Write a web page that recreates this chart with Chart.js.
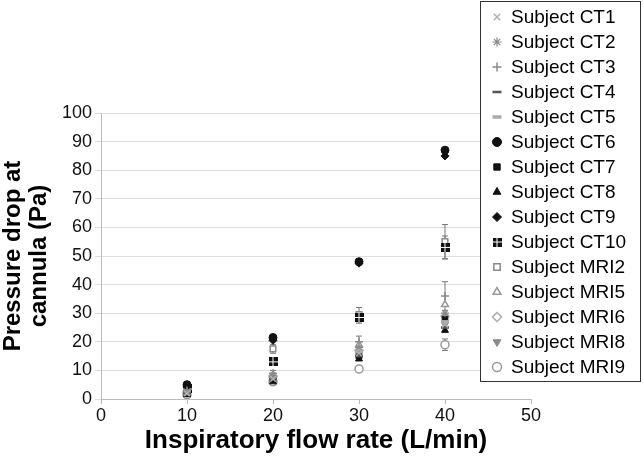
<!DOCTYPE html>
<html><head><meta charset="utf-8">
<script src="https://cdn.jsdelivr.net/npm/chart.js@4/dist/chart.umd.min.js"></script>
<style>html,body{margin:0;padding:0;background:#fff}</style>
</head><body>
<canvas id="c" width="643" height="462"></canvas>
<script>
// ---- data ----
const flowRates = [10, 20, 30, 40];
const xTickValues = [0, 10, 20, 30, 40, 50];
const yTickValues = [0, 10, 20, 30, 40, 50, 60, 70, 80, 90, 100];
const subjectNames = ['Subject CT1','Subject CT2','Subject CT3','Subject CT4','Subject CT5','Subject CT6','Subject CT7','Subject CT8','Subject CT9','Subject CT10','Subject MRI2','Subject MRI5','Subject MRI6','Subject MRI8','Subject MRI9'];
const ct1  = [2.0, 7.0, 16.0, 26.0];
const ct2  = [2.5, 8.0, 18.0, 30.0];
const ct3  = [3.0, 9.0, 20.0, 36.0];
const ct4  = [2.0, 7.0, 15.0, 25.0];
const ct5  = [2.0, 7.5, 16.5, 27.0];
const ct6  = [5.0, 21.5, 48.0, 87.0];
const ct7  = [2.0, 7.0, 15.0, 28.0];
const ct8  = [1.5, 6.0, 14.0, 24.0];
const ct9  = [4.5, 20.5, 47.5, 85.0];
const ct10 = [3.5, 13.0, 28.5, 53.0];
const mri2 = [4.0, 17.5, 29.5, 55.0];
const mri5 = [3.0, 8.5, 19.0, 33.0];
const mri6 = [2.5, 8.0, 17.0, 29.0];
const mri8 = [2.0, 7.0, 16.0, 26.0];
const mri9 = [1.5, 6.0, 10.5, 19.0];
const errCt3  = [0.5, 1.0, 2.0, 5.0];
const errCt10 = [0.5, 1.0, 2.0, 4.0];
const errMri2 = [1.0, 1.5, 2.5, 6.0];
const errMri9 = [0.5, 1.0, 1.0, 2.0];

// ---- marker image for CT10 (square with white cross) ----
function checkSquare() {
  const cv = document.createElement('canvas');
  cv.width = 9; cv.height = 9;
  const g = cv.getContext('2d');
  g.fillStyle = '#111'; g.fillRect(0, 0, 9, 9);
  g.fillStyle = '#fff'; g.fillRect(4, 0, 1, 9); g.fillRect(0, 4, 9, 1);
  return cv;
}

const styles = [
  {pointStyle:'crossRot', bg:'#b0b0b0', bd:'#b0b0b0', bw:1.5},
  {pointStyle:'star',     bg:'#8a8a8a', bd:'#8a8a8a', bw:1.2},
  {pointStyle:'cross',    bg:'#8a8a8a', bd:'#8a8a8a', bw:1.5},
  {pointStyle:'line',     bg:'#555',    bd:'#555',    bw:2.5},
  {pointStyle:'line',     bg:'#aaa',    bd:'#aaa',    bw:3.5},
  {pointStyle:'circle',   bg:'#111',    bd:'#111',    bw:1},
  {pointStyle:'rect',     bg:'#111',    bd:'#111',    bw:1},
  {pointStyle:'triangle', bg:'#111',    bd:'#111',    bw:1},
  {pointStyle:'rectRot',  bg:'#111',    bd:'#111',    bw:1},
  {pointStyle:checkSquare(), bg:'#111', bd:'#111',    bw:1},
  {pointStyle:'rect',     bg:'#fff',    bd:'#8a8a8a', bw:1.5},
  {pointStyle:'triangle', bg:'#fff',    bd:'#999',    bw:1.5},
  {pointStyle:'rectRot',  bg:'#fff',    bd:'#aaa',    bw:1.5},
  {pointStyle:'triangle', bg:'#8a8a8a', bd:'#8a8a8a', bw:1, rot:180},
  {pointStyle:'circle',   bg:'#fff',    bd:'#999',    bw:1.5}
];
const seriesValues = [ct1, ct2, ct3, ct4, ct5, ct6, ct7, ct8, ct9, ct10, mri2, mri5, mri6, mri8, mri9];
const seriesErrors = [null, null, errCt3, null, null, null, null, null, null, errCt10, errMri2, null, null, null, errMri9];

const datasets = subjectNames.map((name, i) => ({
  label: name,
  data: flowRates.map((x, j) => ({x: x, y: seriesValues[i][j]})),
  errors: seriesErrors[i],
  pointStyle: styles[i].pointStyle,
  backgroundColor: styles[i].bg,
  borderColor: styles[i].bd,
  pointBorderWidth: styles[i].bw,
  pointRadius: 4,
  pointRotation: styles[i].rot || 0,
  showLine: false
}));

const errorBars = {
  id: 'errorBars',
  beforeDatasetsDraw(chart) {
    const ctx = chart.ctx, xs = chart.scales.x, ys = chart.scales.y;
    ctx.save();
    ctx.strokeStyle = '#777'; ctx.lineWidth = 1;
    chart.data.datasets.forEach(ds => {
      if (!ds.errors) return;
      ds.data.forEach((p, j) => {
        const e = ds.errors[j];
        const px = xs.getPixelForValue(p.x);
        const y1 = ys.getPixelForValue(p.y - e), y2 = ys.getPixelForValue(p.y + e);
        ctx.beginPath();
        ctx.moveTo(px, y1); ctx.lineTo(px, y2);
        ctx.moveTo(px - 3, y1); ctx.lineTo(px + 3, y1);
        ctx.moveTo(px - 3, y2); ctx.lineTo(px + 3, y2);
        ctx.stroke();
      });
    });
    ctx.restore();
  }
};

const boxLegend = {
  id: 'boxLegend',
  afterDraw(chart) {
    const ctx = chart.ctx;
    const left = 480, top = 1, right = 641, bottom = 382;
    ctx.save();
    ctx.fillStyle = '#fff';
    ctx.fillRect(left, top, right - left, bottom - top);
    ctx.strokeStyle = '#333'; ctx.lineWidth = 1;
    ctx.strokeRect(left + 0.5, top + 0.5, right - left - 1, bottom - top - 1);
    ctx.font = '19px "Liberation Sans", Arial, sans-serif';
    ctx.textBaseline = 'middle'; ctx.textAlign = 'left';
    chart.data.datasets.forEach((ds, i) => {
      const y = 17 + i * 25;
      const opts = {pointStyle: ds.pointStyle, radius: 4.5, rotation: ds.pointRotation || 0, borderWidth: ds.pointBorderWidth};
      ctx.fillStyle = ds.backgroundColor; ctx.strokeStyle = ds.borderColor; ctx.lineWidth = ds.pointBorderWidth;
      if (Chart.helpers && Chart.helpers.drawPoint) Chart.helpers.drawPoint(ctx, opts, 497, y);
      ctx.fillStyle = '#000';
      ctx.fillText(ds.label, 511, y + 1);
    });
    ctx.restore();
  }
};

new Chart(document.getElementById('c'), {
  type: 'scatter',
  data: {datasets},
  plugins: [errorBars, boxLegend],
  options: {
    responsive: false, animation: false, devicePixelRatio: 1,
    layout: {padding: {top: 113, right: 112, left: 0, bottom: 0}},
    plugins: {legend: {display: false}, tooltip: {enabled: false}},
    scales: {
      x: {
        type: 'linear', min: 0, max: 50,
        afterBuildTicks: s => { s.ticks = xTickValues.map(v => ({value: v})); },
        afterFit: s => { s.height = 63; },
        grid: {drawOnChartArea: false, color: '#bbb', tickLength: 5},
        border: {color: '#bbb'},
        ticks: {color: '#111', font: {size: 18, family: '"Liberation Sans", Arial, sans-serif'}, padding: 1, maxRotation: 0},
        title: {display: true, text: 'Inspiratory flow rate (L/min)', color: '#000',
          font: {size: 26, weight: 'bold', family: '"Liberation Sans", Arial, sans-serif', lineHeight: 1.2}, padding: {top: 0, bottom: 6}}
      },
      y: {
        type: 'linear', min: 0, max: 100,
        afterBuildTicks: s => { s.ticks = yTickValues.map(v => ({value: v})); },
        afterFit: s => { s.width = 101; },
        grid: {color: '#dedede', tickLength: 6},
        border: {color: '#bbb'},
        ticks: {color: '#111', font: {size: 18, family: '"Liberation Sans", Arial, sans-serif'}, padding: 3},
        title: {display: true, text: ['Pressure drop at', 'cannula (Pa)'], color: '#000',
          font: {size: 24, weight: 'bold', family: '"Liberation Sans", Arial, sans-serif', lineHeight: 1.1}, padding: {top: 0, bottom: 0}}
      }
    }
  }
});
</script>
</body></html>
